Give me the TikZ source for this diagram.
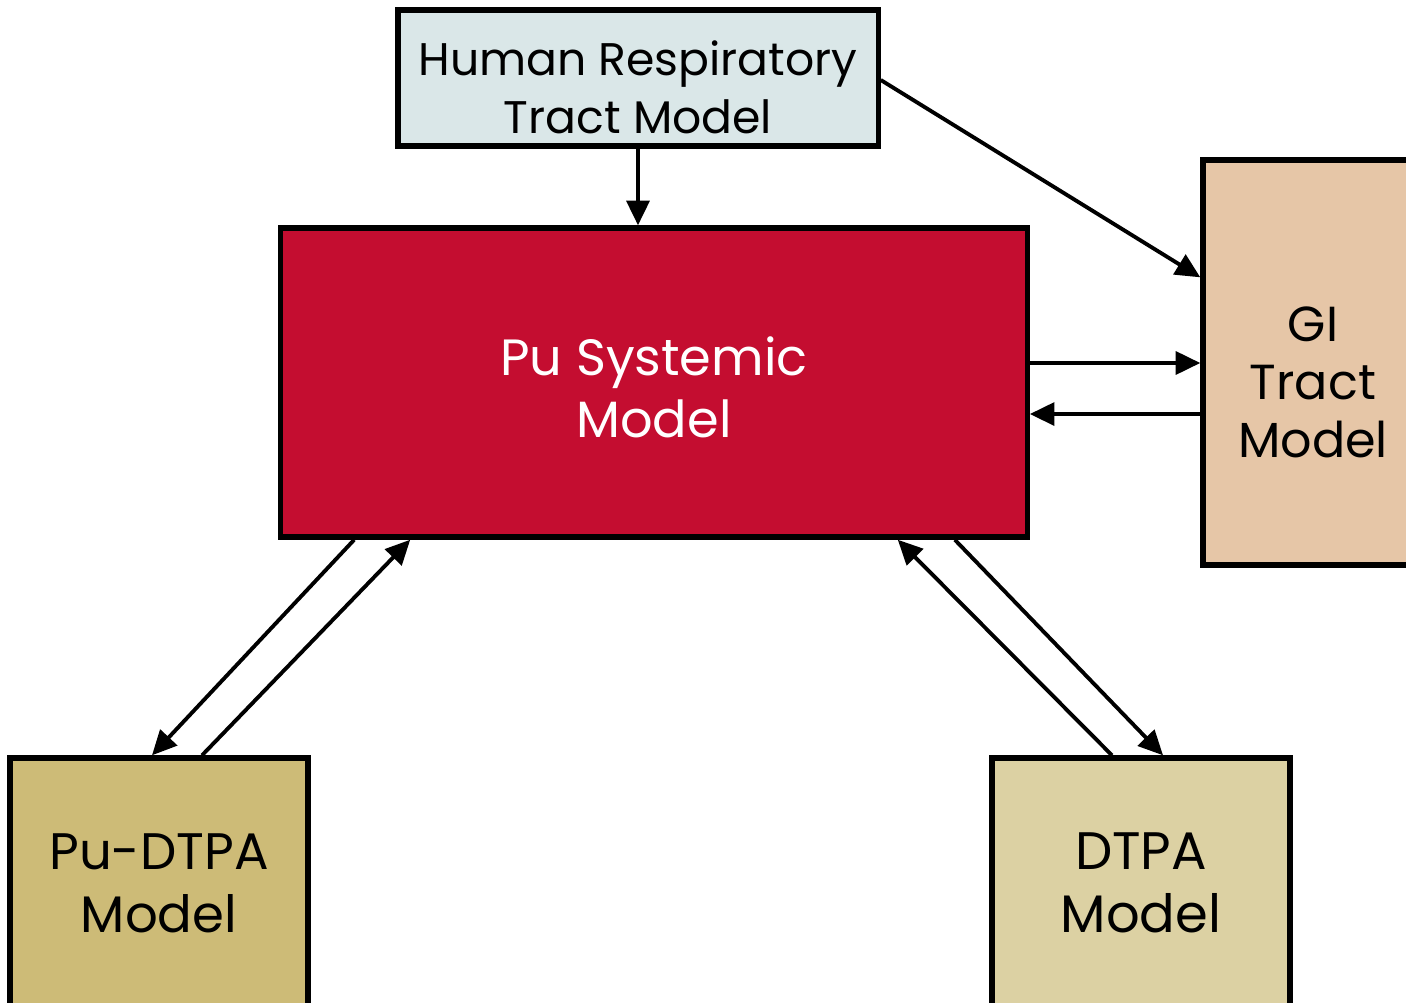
\documentclass[tikz,border=0pt]{standalone}
\usepackage{fontspec}
\setmainfont{Poppins}
\usetikzlibrary{arrows.meta}

\definecolor{hrtblue}{HTML}{DAE7E8}
\definecolor{sysred}{HTML}{C40D30}
\definecolor{gitan}{HTML}{E6C6A7}
\definecolor{pudtpa}{HTML}{CDBB77}
\definecolor{dtpa}{HTML}{DCD1A3}

\begin{document}
\begin{tikzpicture}[
    x=0.01cm, y=-0.01cm,
    box/.style={draw=black, line width=1.5pt, inner sep=0pt},
    boxtext/.style={align=center, inner sep=0pt},
    flow/.style={line width=1.1pt, -{Triangle[length=7pt, width=6.5pt]}}
]

% Cadre de la figure
\clip (0,0) rectangle (1406,1002);

% Boites des modeles
\node[box, fill=hrtblue, minimum width=4.8cm, minimum height=1.36cm] (hrt) at (638,78) {};
\node[box, fill=sysred, minimum width=7.46cm, minimum height=3.09cm] (sys) at (654,382.5) {};
\node[box, fill=gitan, minimum width=2.2cm, minimum height=4.05cm] (gi) at (1313,362.5) {};
\node[box, fill=pudtpa, minimum width=2.98cm, minimum height=2.5cm] (pud) at (159,883) {};
\node[box, fill=dtpa, minimum width=2.98cm, minimum height=2.5cm] (dtpa) at (1141,883) {};

% Textes des boites
\node[boxtext, font=\fontsize{13}{16.5}\selectfont] (hrtlbl) at ([yshift=-0.09cm]hrt.center)
    {Human Respiratory\\Tract Model};
\node[boxtext, text=white, font=\fontsize{14.5}{17.6}\selectfont] (syslbl) at ([yshift=-0.05cm]sys.center)
    {Pu Systemic\\Model};
\node[boxtext, font=\fontsize{14}{16.5}\selectfont] (gilbl) at ([yshift=-0.2cm]gi.center)
    {GI\\Tract\\Model};
\node[boxtext, font=\fontsize{14.6}{18}\selectfont] (pudlbl) at (pud.center) {Pu-DTPA\\Model};
\node[boxtext, font=\fontsize{15}{18}\selectfont] (dtpalbl) at (dtpa.center) {DTPA\\Model};

% Fleches
\draw[flow] (hrt.south) -- (hrt.south |- sys.north);
\draw[flow] ([yshift=-0.02cm]hrt.east) -- ([yshift=-1.2cm]gi.north west);
\draw[flow] ([yshift=0.195cm]sys.east) -- ([yshift=0.195cm]sys.east -| gi.west);
\draw[flow] ([yshift=-0.315cm]gi.west |- sys.east) -- ([yshift=-0.315cm]sys.east);

% Echanges avec le modele Pu-DTPA
\draw[flow] ([xshift=0.76cm]sys.south west) -- ([xshift=-0.07cm]pud.north);
\draw[flow] ([xshift=0.43cm]pud.north) -- ([xshift=1.32cm]sys.south west);

% Echanges avec le modele DTPA
\draw[flow] ([xshift=-0.29cm]dtpa.north) -- ([xshift=-1.32cm]sys.south east);
\draw[flow] ([xshift=-0.75cm]sys.south east) -- ([xshift=0.22cm]dtpa.north);

\end{tikzpicture}
\end{document}
